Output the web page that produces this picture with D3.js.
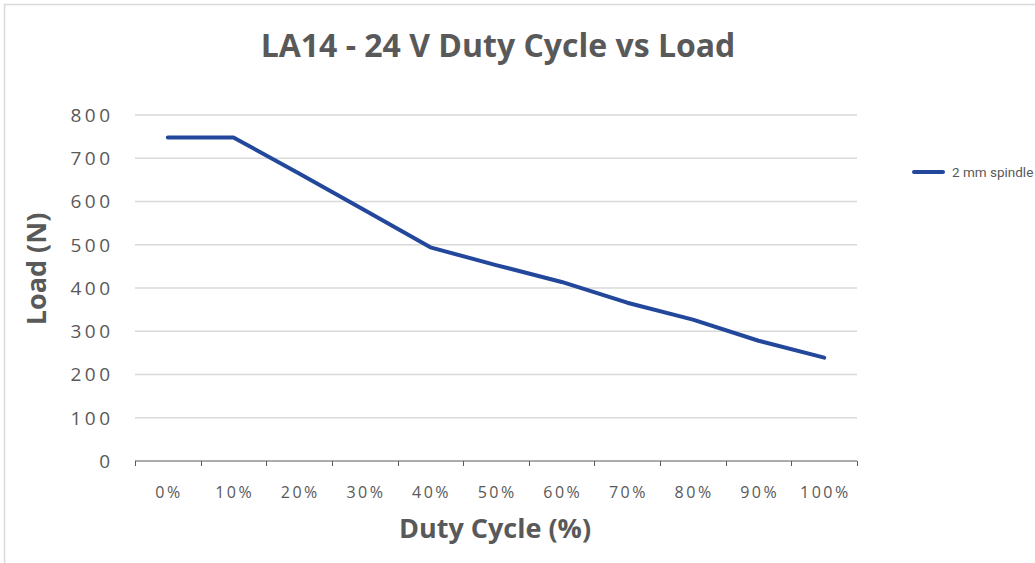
<!DOCTYPE html>
<html>
<head>
<meta charset="utf-8">
<script src="https://cdn.jsdelivr.net/npm/d3@7"></script>
<style>
  html, body { margin: 0; padding: 0; background: #fff; }
  body { font-family: 'Open Sans', sans-serif; }
  .ylab { font-size: 19px; letter-spacing: 3.5px; fill: #595959; }
  .xlab { font-size: 16px; letter-spacing: 2.5px; fill: #595959; }
</style>
</head>
<body>
<svg width="1035" height="563"></svg>
<script>
  const categories = ["0%", "10%", "20%", "30%", "40%", "50%", "60%", "70%", "80%", "90%", "100%"];
  const loads = [748, 748, 665, 580, 494, 453, 414, 366, 327, 278, 239];
  const yTicks = [0, 100, 200, 300, 400, 500, 600, 700, 800];
  const seriesName = "2 mm spindle";

  const svg = d3.select("svg");
  const grey = "#595959";

  // chart frame (runs off the right/bottom edge)
  svg.append("rect")
    .attr("x", 4.5).attr("y", 4.5)
    .attr("width", 1100).attr("height", 700)
    .attr("fill", "none")
    .attr("stroke", "#d9d9d9")
    .attr("stroke-width", 1.5);

  const plotL = 135, plotR = 857, plotT = 115, plotB = 461;

  const x = d3.scaleBand().domain(categories).range([plotL, plotR]).padding(0);
  const y = d3.scaleLinear().domain([0, 800]).range([plotB, plotT]);

  // gridlines
  svg.append("g")
    .selectAll("line")
    .data(yTicks.filter(d => d > 0))
    .join("line")
    .attr("x1", plotL).attr("x2", plotR)
    .attr("y1", d => y(d)).attr("y2", d => y(d))
    .attr("stroke", "#d9d9d9")
    .attr("stroke-width", 1.5);

  // y labels
  svg.append("g")
    .selectAll("text")
    .data(yTicks)
    .join("text")
    .attr("class", "ylab")
    .attr("x", 113.5)
    .attr("y", d => y(d))
    .attr("dy", "0.36em")
    .attr("text-anchor", "end")
    .text(d => d);

  // x axis line + ticks between categories
  svg.append("line")
    .attr("x1", plotL).attr("x2", plotR)
    .attr("y1", plotB).attr("y2", plotB)
    .attr("stroke", grey).attr("stroke-width", 1);

  const tickPos = categories.map(c => x(c)).concat([plotR]);
  svg.append("g")
    .selectAll("line")
    .data(tickPos)
    .join("line")
    .attr("x1", d => Math.round(d) + 0.5).attr("x2", d => Math.round(d) + 0.5)
    .attr("y1", plotB).attr("y2", plotB + 5)
    .attr("stroke", grey);

  svg.append("g")
    .selectAll("text")
    .data(categories)
    .join("text")
    .attr("class", "xlab")
    .attr("x", d => x(d) + x.bandwidth() / 2 + 1.2)
    .attr("y", 498)
    .attr("text-anchor", "middle")
    .text(d => d);

  // line
  const line = d3.line()
    .x((d, i) => x(categories[i]) + x.bandwidth() / 2)
    .y(d => y(d));

  svg.append("path")
    .datum(loads)
    .attr("d", line)
    .attr("fill", "none")
    .attr("stroke", "#22479b")
    .attr("stroke-width", 4)
    .attr("stroke-linecap", "round")
    .attr("stroke-linejoin", "round");

  // title
  svg.append("text")
    .attr("x", 498).attr("y", 57)
    .attr("text-anchor", "middle")
    .attr("font-size", 32)
    .attr("font-weight", "bold")
    .attr("fill", grey)
    .text("LA14 - 24 V Duty Cycle vs Load");

  // axis titles
  svg.append("text")
    .attr("x", 495).attr("y", 538)
    .attr("text-anchor", "middle")
    .attr("font-size", 27)
    .attr("font-weight", "bold")
    .attr("fill", grey)
    .text("Duty Cycle (%)");

  svg.append("text")
    .attr("transform", "translate(46,269) rotate(-90)")
    .attr("text-anchor", "middle")
    .attr("font-size", 27)
    .attr("font-weight", "bold")
    .attr("fill", grey)
    .text("Load (N)");

  // legend
  const lg = svg.append("g").attr("transform", "translate(914,172)");
  lg.append("line")
    .attr("x1", 0).attr("x2", 29)
    .attr("stroke", "#22479b").attr("stroke-width", 4)
    .attr("stroke-linecap", "round");
  lg.append("text")
    .attr("x", 38).attr("dy", "0.36em")
    .attr("font-family", "Roboto, sans-serif")
    .attr("font-size", 13.5)
    .attr("fill", grey)
    .text(seriesName);
</script>
</body>
</html>
